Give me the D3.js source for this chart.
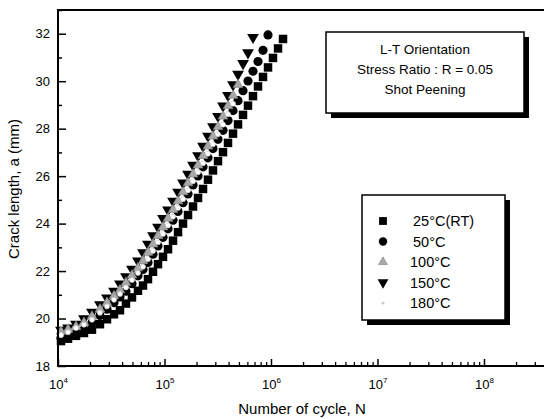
<!DOCTYPE html>
<html>
<head>
<meta charset="utf-8">
<script src="https://cdn.jsdelivr.net/npm/d3@7"></script>
<style>
  html, body { margin: 0; padding: 0; background: #fff; }
  svg { display: block; font-family: "Liberation Sans", Arial, sans-serif; }
</style>
</head>
<body>
<svg id="chart" width="544" height="419"></svg>
<script>
// ---- data ----
const cycles = [10670, 12420, 14760, 17540, 20840, 24770, 28840, 33570, 38190, 43470,
  49510, 56360, 62810, 69980, 77980, 86900, 96830, 107900, 120200, 134000,
  149300, 166300, 185300, 206500, 230100, 256000, 285300, 317900, 354300, 394800,
  439900, 490200, 546300, 608100, 677600, 755100, 841400, 937600, 1044000, 1164000, 1297000];

const crack25 = [19.05,19.15,19.27,19.39,19.53,19.76,19.97,20.18,20.35,20.63,20.89,21.17,21.39,21.66,21.97,22.29,22.60,22.92,23.28,23.64,24.00,24.36,24.72,25.08,25.46,25.85,26.24,26.63,27.01,27.40,27.79,28.18,28.58,28.97,29.37,29.78,30.18,30.58,30.98,31.38,31.78];
const crack50 = [19.18,19.26,19.38,19.53,19.82,20.13,20.39,20.67,20.91,21.15,21.47,21.80,22.07,22.36,22.71,23.06,23.42,23.78,24.14,24.51,24.88,25.25,25.63,26.01,26.39,26.77,27.16,27.55,27.93,28.34,28.76,29.18,29.60,30.01,30.42,30.83,31.30,31.95];
const crack100 = [19.45,19.54,19.66,19.83,20.09,20.39,20.67,20.95,21.20,21.51,21.82,22.13,22.43,22.78,23.13,23.49,23.85,24.22,24.58,24.95,25.33,25.71,26.08,26.46,26.86,27.26,27.68,28.08,28.52,28.96,29.40,29.85];
const crack150 = [19.51,19.61,19.76,19.99,20.27,20.59,20.87,21.15,21.46,21.77,22.08,22.43,22.78,23.13,23.49,23.85,24.22,24.58,24.95,25.33,25.71,26.08,26.46,26.86,27.26,27.68,28.08,28.52,28.96,29.40,29.85,30.30,30.75,31.20,31.85];
const crack180 = [19.30,19.42,19.60,19.74,19.95,20.24,20.51,20.79,21.03,21.31,21.62,21.92,22.18,22.50,22.85,23.21,23.56,23.92,24.29,24.66,25.03,25.40,25.78,26.16,26.54,26.94,27.34,27.76,28.17,28.61,29.05];

const seriesNames = ["25°C(RT)", "50°C", "100°C", "150°C", "180°C"];
const yTicks = [18, 20, 22, 24, 26, 28, 30, 32];
const yMinor = [19, 21, 23, 25, 27, 29, 31, 33];
const xMajor = [1e4, 1e5, 1e6, 1e7, 1e8];
const xExponents = ["4", "5", "6", "7", "8"];
const infoLines = ["L-T Orientation", "Stress Ratio : R = 0.05", "Shot Peening"];
const xTitle = "Number of cycle, N";
const yTitle = "Crack length, a (mm)";

// ---- layout ----
const svg = d3.select("#chart");
const x = d3.scaleLog().domain([1e4, 1e9]).range([58, 590.5]);
const y = d3.scaleLinear().domain([18, 33]).range([366, 10]);

const styles = [
  { sym: d3.symbolSquare, size: 72, fill: "#000", stroke: "none" },
  { sym: d3.symbolCircle, size: 66, fill: "#000", stroke: "none" },
  { sym: d3.symbolTriangle, size: 40, fill: "#a8a8a8", stroke: "#888", rot: 0 },
  { sym: d3.symbolTriangle, size: 60, fill: "#000", stroke: "none", rot: 180 },
  { sym: d3.symbolCircle, size: 20, fill: "#fff", stroke: "#c8c8c8" }
];
const seriesData = [crack25, crack50, crack100, crack150, crack180];
const drawOrder = [0, 1, 3, 2, 4];

const plot = svg.append("g");
drawOrder.forEach(si => {
  const st = styles[si];
  const pts = seriesData[si].map((a, i) => ({ n: cycles[i], a }));
  plot.append("g").selectAll("path").data(pts).join("path")
    .attr("d", d3.symbol().type(st.sym).size(st.size))
    .attr("transform", d => `translate(${x(d.n)},${y(d.a)})` + (st.rot ? ` rotate(${st.rot})` : ""))
    .attr("fill", st.fill)
    .attr("stroke", st.stroke)
    .attr("stroke-width", 0.7);
});

// ---- axes ----
const xMinor = [];
for (let e = 4; e < 9; e++) for (let m = 2; m <= 9; m++) xMinor.push(m * Math.pow(10, e));

const gx = svg.append("g").attr("transform", "translate(0,366)");
gx.call(d3.axisBottom(x).tickValues(xMinor).tickSize(-4).tickFormat(""));
gx.call(g => g.select(".domain").remove());
const gx2 = svg.append("g").attr("transform", "translate(0,366)");
gx2.call(d3.axisBottom(x).tickValues(xMajor).tickSize(-7).tickFormat(""));
gx2.call(g => g.select(".domain").remove());
gx.selectAll("line").attr("stroke", "#000").attr("stroke-width", 1.3);
gx2.selectAll("line").attr("stroke", "#000").attr("stroke-width", 1.5);
gx2.selectAll(".tick").each(function (d, i) {
  const t = d3.select(this).append("text")
    .attr("y", 23).attr("fill", "#000").attr("text-anchor", "middle")
    .attr("font-size", 13).attr("font-family", "Liberation Sans, Arial, sans-serif");
  t.append("tspan").text("10");
  t.append("tspan").attr("dy", -6).attr("font-size", 8).text(xExponents[i]);
});

const gy = svg.append("g").attr("transform", "translate(58,0)");
gy.call(d3.axisLeft(y).tickValues(yMinor).tickSize(-4).tickFormat(""));
gy.call(g => g.select(".domain").remove());
const gy2 = svg.append("g").attr("transform", "translate(58,0)");
gy2.call(d3.axisLeft(y).tickValues(yTicks).tickSize(-8).tickPadding(8).tickFormat(d3.format("d")));
gy2.call(g => g.select(".domain").remove());
gy.selectAll("line").attr("stroke", "#000").attr("stroke-width", 1.5);
gy2.selectAll("line").attr("stroke", "#000").attr("stroke-width", 1.5);
gy2.selectAll("text").attr("font-size", 13).attr("fill", "#000")
  .attr("font-family", "Liberation Sans, Arial, sans-serif");

// frame lines (left, bottom, top)
svg.append("line").attr("x1", 58).attr("x2", 58).attr("y1", 9).attr("y2", 367).attr("stroke", "#000").attr("stroke-width", 2);
svg.append("line").attr("x1", 57).attr("x2", 590).attr("y1", 366).attr("y2", 366).attr("stroke", "#000").attr("stroke-width", 2);
svg.append("line").attr("x1", 57).attr("x2", 590).attr("y1", 10).attr("y2", 10).attr("stroke", "#000").attr("stroke-width", 2);

// titles
svg.append("text").attr("x", 302).attr("y", 414).attr("text-anchor", "middle")
  .attr("font-size", 15).attr("fill", "#000").text(xTitle);
svg.append("text").attr("transform", "translate(19,189) rotate(-90)").attr("text-anchor", "middle")
  .attr("font-size", 15).attr("fill", "#000").text(yTitle);

// info box
const ib = svg.append("g");
ib.append("rect").attr("x", 331).attr("y", 37).attr("width", 198).attr("height", 81).attr("fill", "#000");
ib.append("rect").attr("x", 326).attr("y", 32).attr("width", 198).attr("height", 81)
  .attr("fill", "#fff").attr("stroke", "#000").attr("stroke-width", 1.5);
ib.selectAll("text.info").data(infoLines).join("text")
  .attr("x", 425).attr("y", (d, i) => 54 + i * 20)
  .attr("text-anchor", "middle").attr("font-size", 13.5).attr("fill", "#000").text(d => d);

// legend
const lg = svg.append("g");
lg.append("rect").attr("x", 367).attr("y", 200).attr("width", 143).attr("height", 125).attr("fill", "#000");
lg.append("rect").attr("x", 362).attr("y", 195).attr("width", 143).attr("height", 125)
  .attr("fill", "#fff").attr("stroke", "#000").attr("stroke-width", 1.5);
seriesNames.forEach((name, i) => {
  const st = styles[i];
  const cy = 221 + i * 20.5;
  lg.append("path")
    .attr("d", d3.symbol().type(st.sym).size(i === 4 ? 8 : st.size * 0.85))
    .attr("transform", `translate(383,${cy})` + (st.rot ? ` rotate(${st.rot})` : ""))
    .attr("fill", i === 4 ? "#ccc" : st.fill).attr("stroke", i === 4 ? "none" : st.stroke).attr("stroke-width", 0.7);
  lg.append("text").attr("x", i < 2 ? 413 : 410).attr("y", cy + 5)
    .attr("font-size", 14.5).attr("fill", "#000").text(name);
});
</script>
</body>
</html>
